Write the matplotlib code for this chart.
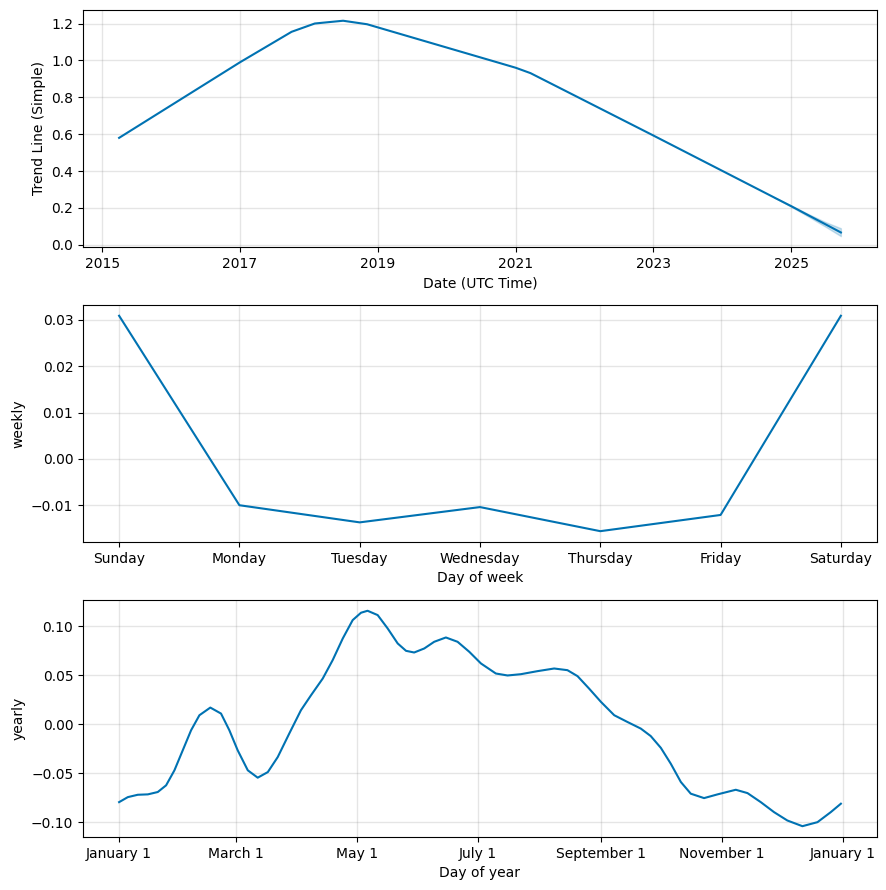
import matplotlib
matplotlib.use('Agg')
import matplotlib.pyplot as plt
import matplotlib.dates as mdates
import pandas as pd

# trend (piecewise linear)
trend_dates = ['2015-04-01', '2017-01-01', '2017-10-01', '2018-02-01', '2018-07-01',
               '2018-11-05', '2020-10-10', '2021-01-01', '2021-03-20', '2022-12-25',
               '2024-10-01', '2025-01-01', '2025-04-01', '2025-07-01', '2025-09-20']
trend_vals = [0.58, 0.99, 1.155, 1.20, 1.215, 1.196, 0.985, 0.960, 0.931, 0.596,
              0.257, 0.209, 0.160, 0.111, 0.067]

# uncertainty band on the forecast part
band_dates = ['2024-10-01', '2025-01-01', '2025-04-01', '2025-07-01', '2025-09-20']
band_lower = [0.257, 0.206, 0.153, 0.098, 0.047]
band_upper = [0.257, 0.212, 0.167, 0.123, 0.090]

year_ticks = ['2015', '2017', '2019', '2021', '2023', '2025']

# weekly
days = ['Sunday', 'Monday', 'Tuesday', 'Wednesday', 'Thursday', 'Friday', 'Saturday']
weekly = [0.0309, -0.0100, -0.0137, -0.0104, -0.0156, -0.0121, 0.0309]

# yearly (day of year, value)
year_days = [0, 4.4, 9.4, 14.5, 19.5, 23.7, 27.9, 32.1, 36.3, 40.5, 46, 51.4, 55.6,
             59.8, 64.9, 69.9, 75, 80, 85.8, 91.7, 96.8, 102.7, 107.7, 112.8, 117.8,
             122, 125.3, 130.4, 135.4, 140.5, 144.7, 148.8, 153.9, 158.9, 164.8, 170.7,
             176.6, 182.5, 190, 195.9, 202.6, 211, 219.4, 226.1, 231.2, 237, 243, 249.7,
             256.4, 263.1, 268.1, 273.2, 278.2, 283.3, 288.3, 295, 301.8, 311, 316.9,
             323.6, 330.3, 337, 344.6, 352.2, 358.9, 364]
yearly = [-0.0793, -0.0742, -0.0718, -0.0714, -0.0690, -0.0622, -0.0469, -0.0265,
          -0.0061, 0.0092, 0.0170, 0.0109, -0.0061, -0.0265, -0.0469, -0.0544, -0.0487,
          -0.0334, -0.0095, 0.0143, 0.0296, 0.0466, 0.0653, 0.0874, 0.1061, 0.1136,
          0.1156, 0.1112, 0.0977, 0.0823, 0.0748, 0.0731, 0.0772, 0.0840, 0.0884,
          0.0840, 0.0738, 0.0619, 0.0517, 0.0497, 0.0510, 0.0541, 0.0568, 0.0551,
          0.0490, 0.0364, 0.0228, 0.0092, 0.0023, -0.0044, -0.0120, -0.0240, -0.0401,
          -0.0588, -0.0707, -0.0752, -0.0714, -0.0667, -0.0701, -0.0793, -0.0895,
          -0.0980, -0.1038, -0.0997, -0.0895, -0.0809]

color = '#0072B2'

fig, axes = plt.subplots(3, 1, figsize=(8.86, 8.9), dpi=100)
fig.subplots_adjust(left=0.0937, right=0.9898, top=0.9888, bottom=0.0596, hspace=0.245)

# trend
ax = axes[0]
ax.plot(pd.to_datetime(trend_dates), trend_vals, ls='-', c=color)
ax.fill_between(pd.to_datetime(band_dates), band_lower, band_upper, color=color, alpha=0.2)
ax.set_xticks(pd.to_datetime(year_ticks))
ax.xaxis.set_major_formatter(mdates.DateFormatter('%Y'))
ax.grid(True, which='major', c='gray', ls='-', lw=1, alpha=0.2)
ax.set_xlabel('Date (UTC Time)')
ax.set_ylabel('Trend Line (Simple)')

# weekly
ax = axes[1]
ax.plot(range(len(days)), weekly, ls='-', c=color)
ax.set_xticks(range(len(days)))
ax.set_xticklabels(days)
ax.grid(True, which='major', c='gray', ls='-', lw=1, alpha=0.2)
ax.set_xlabel('Day of week')
ax.set_ylabel('weekly')

# yearly
ax = axes[2]
ydates = pd.Timestamp('2017-01-01') + pd.to_timedelta(year_days, unit='D')
ax.plot(ydates, yearly, ls='-', c=color)
ax.xaxis.set_major_locator(mdates.MonthLocator(bymonth=[1, 3, 5, 7, 9, 11]))
ax.xaxis.set_major_formatter(mdates.DateFormatter('%B %-d'))
ax.grid(True, which='major', c='gray', ls='-', lw=1, alpha=0.2)
ax.set_xlabel('Day of year')
ax.set_ylabel('yearly')

fig.savefig('out.png', dpi=100)
